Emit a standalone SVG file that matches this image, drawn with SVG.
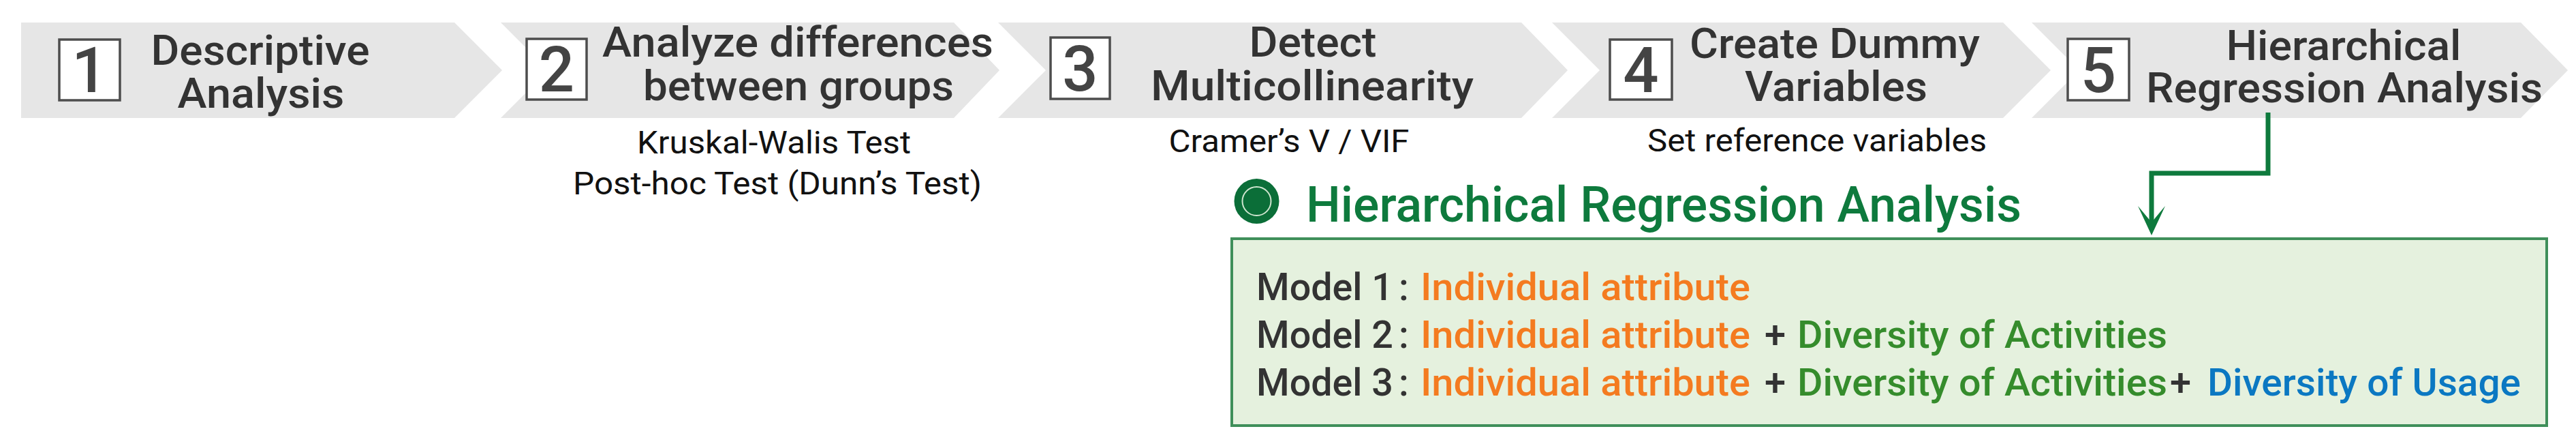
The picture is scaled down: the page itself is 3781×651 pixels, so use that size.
<svg xmlns="http://www.w3.org/2000/svg" width="3781" height="651" viewBox="0 0 3781 651">
<style>
.chev{fill:#e6e6e6}
.num{fill:#fff;stroke:#4d4d4d;stroke-width:3.5}
.dig{font-family:Roboto,"Liberation Sans",sans-serif;font-weight:500;font-size:92px;fill:#444;text-anchor:middle}
.ttl{font-family:Roboto,"Liberation Sans",sans-serif;font-weight:500;font-size:62px;fill:#333;text-anchor:middle}
.sub{font-family:Roboto,"Liberation Sans",sans-serif;font-weight:400;font-size:46px;fill:#111;text-anchor:middle}
.hra{font-family:Roboto,"Liberation Sans",sans-serif;font-weight:500;font-size:73px;fill:#0e7a3d}
.mdl{font-family:Roboto,"Liberation Sans",sans-serif;font-weight:500;font-size:56px;fill:#333}
.or{fill:#f47b20}
.gr{fill:#358c2c}
.bl{fill:#0b78c2}
.conn{fill:none;stroke:#0e7a3d;stroke-width:7}
</style>
<rect width="3781" height="651" fill="#fff"/>

<g id="step1">
<polygon class="chev" points="31,33 667,33 737,103 667,173 31,173"/>
<rect class="num" x="87" y="58" width="89" height="89"/>
<text class="dig" x="131.5" y="135">1</text>
<text class="ttl" x="382" y="95" textLength="321" lengthAdjust="spacingAndGlyphs">Descriptive</text>
<text class="ttl" x="383" y="158" textLength="245" lengthAdjust="spacingAndGlyphs">Analysis</text>
</g>

<g id="step2">
<polygon class="chev" points="735,33 1400,33 1467,103 1400,173 735,173 805,103"/>
<rect class="num" x="773" y="57" width="88" height="89"/>
<text class="dig" x="817" y="134">2</text>
<text class="ttl" x="1171" y="83" textLength="574" lengthAdjust="spacingAndGlyphs">Analyze differences</text>
<text class="ttl" x="1172" y="147" textLength="456" lengthAdjust="spacingAndGlyphs">between groups</text>
<text class="sub" x="1136" y="225" textLength="402" lengthAdjust="spacingAndGlyphs">Kruskal-Walis Test</text>
<text class="sub" x="1141" y="285" textLength="600" lengthAdjust="spacingAndGlyphs">Post-hoc Test (Dunn’s Test)</text>
</g>

<g id="step3">
<polygon class="chev" points="1465,33 2233,33 2301,103 2233,173 1465,173 1535,103"/>
<rect class="num" x="1542" y="55" width="87" height="90"/>
<text class="dig" x="1585.5" y="133">3</text>
<text class="ttl" x="1927" y="83" textLength="187" lengthAdjust="spacingAndGlyphs">Detect</text>
<text class="ttl" x="1926" y="147" textLength="474" lengthAdjust="spacingAndGlyphs">Multicollinearity</text>
<text class="sub" x="1892" y="223" textLength="353" lengthAdjust="spacingAndGlyphs">Cramer’s V / VIF</text>
</g>

<g id="step4">
<polygon class="chev" points="2278,33 2940,33 3010,103 2940,173 2278,173 2348,103"/>
<rect class="num" x="2363" y="58" width="91" height="88"/>
<text class="dig" x="2408.5" y="135">4</text>
<text class="ttl" x="2693" y="85" textLength="426" lengthAdjust="spacingAndGlyphs">Create Dummy</text>
<text class="ttl" x="2695" y="148" textLength="268" lengthAdjust="spacingAndGlyphs">Variables</text>
<text class="sub" x="2667" y="222" textLength="498" lengthAdjust="spacingAndGlyphs">Set reference variables</text>
</g>

<g id="step5">
<polygon class="chev" points="2982,33 3700,33 3769,103 3700,173 2982,173 3052,103"/>
<rect class="num" x="3035" y="57" width="90" height="90"/>
<text class="dig" x="3080" y="135">5</text>
<text class="ttl" x="3440" y="88" textLength="345" lengthAdjust="spacingAndGlyphs">Hierarchical</text>
<text class="ttl" x="3441" y="150" textLength="582" lengthAdjust="spacingAndGlyphs">Regression Analysis</text>
</g>

<g id="hra-title">
<circle cx="1844.5" cy="295" r="33" fill="#0b6e38"/>
<circle cx="1844.5" cy="295" r="21" fill="none" stroke="#cfe5cf" stroke-width="2"/>
<text class="hra" x="1917" y="325" textLength="1050" lengthAdjust="spacingAndGlyphs">Hierarchical Regression Analysis</text>
</g>

<g id="models">
<rect x="1808" y="350" width="1930" height="274" fill="#e5f1de" stroke="#3f8f5a" stroke-width="4"/>
<text class="mdl" y="440"><tspan x="1844" textLength="201" lengthAdjust="spacingAndGlyphs">Model 1</tspan><tspan x="2053">:</tspan><tspan class="or" x="2085" textLength="484" lengthAdjust="spacingAndGlyphs">Individual attribute</tspan></text>
<text class="mdl" y="510"><tspan x="1844" textLength="201" lengthAdjust="spacingAndGlyphs">Model 2</tspan><tspan x="2053">:</tspan><tspan class="or" x="2085" textLength="484" lengthAdjust="spacingAndGlyphs">Individual attribute</tspan><tspan x="2590">+</tspan><tspan class="gr" x="2638" textLength="543" lengthAdjust="spacingAndGlyphs">Diversity of Activities</tspan></text>
<text class="mdl" y="580"><tspan x="1844" textLength="201" lengthAdjust="spacingAndGlyphs">Model 3</tspan><tspan x="2053">:</tspan><tspan class="or" x="2085" textLength="484" lengthAdjust="spacingAndGlyphs">Individual attribute</tspan><tspan x="2590">+</tspan><tspan class="gr" x="2638" textLength="543" lengthAdjust="spacingAndGlyphs">Diversity of Activities</tspan><tspan x="3185">+</tspan><tspan class="bl" x="3240" textLength="460" lengthAdjust="spacingAndGlyphs">Diversity of Usage</tspan></text>
</g>

<g id="connectors">
<path class="conn" d="M3329,165 V254 H3158 V328"/>
<path d="M3158,345 L3138,302 L3158,326 L3178,302 Z" fill="#0e7a3d"/>
</g>
</svg>
